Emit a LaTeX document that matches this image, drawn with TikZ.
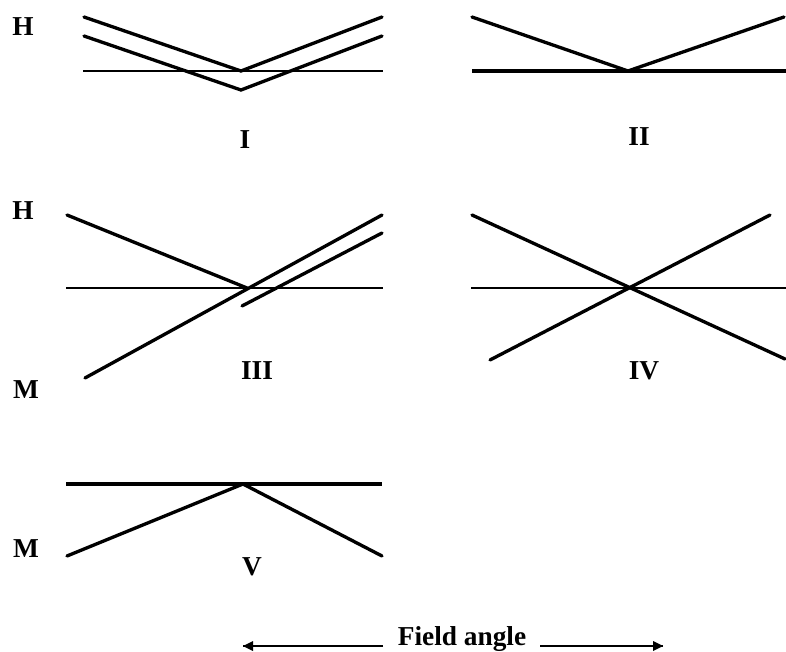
\documentclass[tikz,border=0pt]{standalone}
\usepackage{fontspec}
\setmainfont{Liberation Serif}
\tikzset{every picture/.style={line width=0.75pt}}
\tikzset{
  thick line/.style={line width=2.5pt, line cap=round},
  heavy line/.style={line width=3pt},
  thin line/.style={line width=1.3pt},
  label text/.style={inner sep=0.75pt, font=\fontsize{20.5}{24}\selectfont\bfseries}
}

\begin{document}
\begin{tikzpicture}[x=0.75pt,y=0.75pt,yscale=-1,xscale=1]
\path [use as bounding box] (0,0) rectangle (786,652);

%Panel I
\draw [thin line] (83,71) -- (383,71) ;
\draw [thick line] (84,17) -- (241,71) -- (382,17) ;
\draw [thick line] (84,36) -- (241,90) -- (382,36) ;

%Panel II
\draw [heavy line] (472,71) -- (786,71) ;
\draw [thick line] (472,17) -- (628,71) -- (784,17) ;

%Panel III
\draw [thin line] (66,288) -- (383,288) ;
\draw [thick line] (67,215) -- (247,288) ;
\draw [thick line] (85,378) -- (382,215) ;
\draw [thick line] (242,306) -- (382,233) ;

%Panel IV
\draw [thin line] (471,288) -- (786,288) ;
\draw [thick line] (472,215) -- (785,359) ;
\draw [thick line] (490,360) -- (770,215) ;

%Panel V
\draw [heavy line] (66,484) -- (382,484) ;
\draw [thick line] (67,556) -- (243,484) -- (382,556) ;

% Text Node
\draw (23,27) node [label text] (hI) {H};
% Text Node
\draw (245,140) node [label text] (nI) {I};
% Text Node
\draw (639,137) node [label text] (nII) {II};
% Text Node
\draw (23,211) node [label text] (hIII) {H};
% Text Node
\draw (26,390) node [label text] (mIII) {M};
% Text Node
\draw (257,371) node [label text] (nIII) {III};
% Text Node
\draw (644,371) node [label text] (nIV) {IV};
% Text Node
\draw (26,549) node [label text] (mV) {M};
% Text Node
\draw (252,567) node [label text] (nV) {V};
% Text Node
\draw (462,645) node [label text, anchor=base] (field) {Field angle};

%Straight Lines
\coordinate (leftend) at (243,646) ;
\coordinate (rightend) at (663,646) ;
\draw [line width=1.3pt] (383,646) -- (leftend) ;
\draw [shift={(leftend)}, rotate = 0] [fill={rgb, 255:red, 0; green, 0; blue, 0 }  ][line width=0.08]  [draw opacity=0] (10,-5) -- (0,0) -- (10,5) -- cycle    ;
\draw [line width=1.3pt] (540,646) -- (rightend) ;
\draw [shift={(rightend)}, rotate = 180] [fill={rgb, 255:red, 0; green, 0; blue, 0 }  ][line width=0.08]  [draw opacity=0] (10,-5) -- (0,0) -- (10,5) -- cycle    ;

\end{tikzpicture}
\end{document}
